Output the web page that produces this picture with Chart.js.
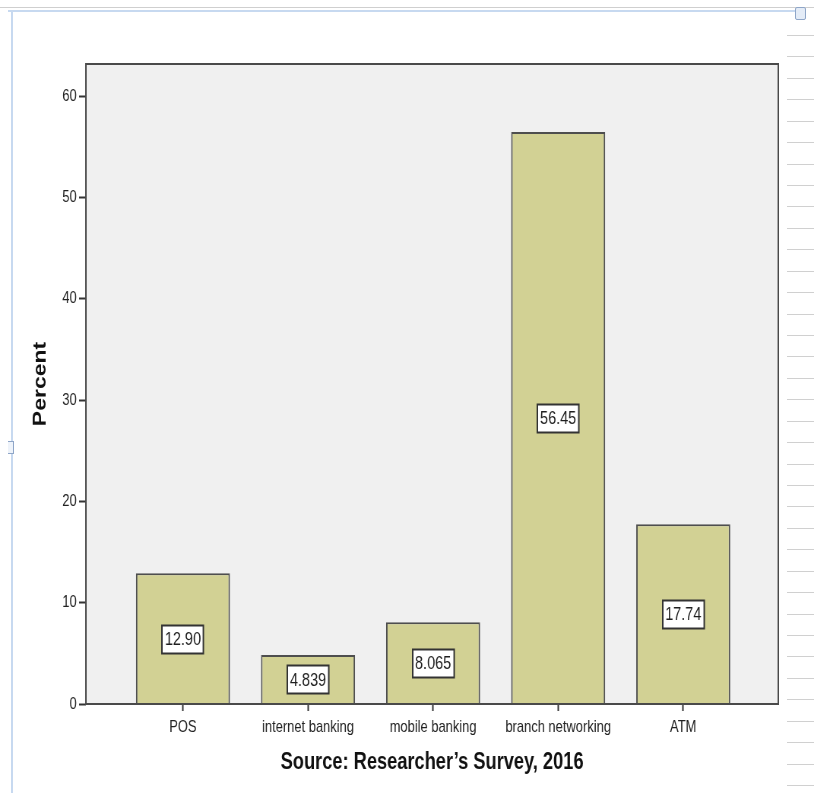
<!DOCTYPE html>
<html>
<head>
<meta charset="utf-8">
<title>Percent by banking channel</title>
<script src="https://cdn.jsdelivr.net/npm/chart.js@4.4.1/dist/chart.umd.min.js"></script>
<style>
  html, body { margin: 0; padding: 0; background: #ffffff; }
  #wrap { position: relative; width: 814px; height: 793px; overflow: hidden; }
  /* the drawing surface is rendered wide and shown condensed (narrow lettering) */
  #chart { position: absolute; left: 0; top: 0; width: 814px !important; height: 793px !important; }
  /* page frame of the surrounding document */
  .rule-top { position: absolute; left: 0; top: 7px; width: 814px; height: 1px; background: #cfcfcf; }
  .rule-blue { position: absolute; left: 8px; top: 10px; width: 792px; height: 2px; background: #c7d9f0; }
  .rule-left { position: absolute; left: 11px; top: 10px; width: 2px; height: 783px; background: #c7d9f0; }
  .handle { position: absolute; left: 795px; top: 7px; width: 9px; height: 11px; border: 1px solid #8fa6c8; border-radius: 2px; background: #e4ecf7; }
  .handle-left { position: absolute; left: 8px; top: 441px; width: 5px; height: 11px; border: 1px solid #8fa6c8; border-left: none; background: #eef3fa; }
  .side-line { position: absolute; left: 787px; width: 27px; height: 1px; background: #d0d0d0; }
</style>
</head>
<body>
<div id="wrap">
  <div class="rule-top"></div>
  <div class="rule-blue"></div>
  <div class="rule-left"></div>
  <div class="handle"></div>
  <div class="handle-left"></div>
  <div id="side"></div>
  <canvas id="chart" width="1071" height="793" style="width:814px;height:793px"></canvas>
</div>
<script>
// Survey results: share of respondents per banking channel
const categories = ['POS', 'internet banking', 'mobile banking', 'branch networking', 'ATM'];
const percents = [12.90, 4.839, 8.065, 56.45, 17.74];
const yTicks = [0, 10, 20, 30, 40, 50, 60];
const yTitle = 'Percent';
const xTitle = 'Source: Researcher\u2019s Survey, 2016';

const sans = "'Liberation Sans', Arial, sans-serif";

// ruled margin lines of the document page on the right
(function () {
  const side = document.getElementById('side');
  for (let y = 35; y < 793; y += 21.43) {
    const d = document.createElement('div');
    d.className = 'side-line';
    d.style.top = Math.round(y) + 'px';
    side.appendChild(d);
  }
})();

// grey plot panel with a dark frame
const panelPlugin = {
  id: 'panel',
  beforeDraw(chart) {
    const { ctx, chartArea: a } = chart;
    ctx.save();
    ctx.fillStyle = '#f0f0f0';
    ctx.fillRect(a.left, a.top, a.right - a.left, a.bottom - a.top);
    ctx.restore();
  },
  afterDraw(chart) {
    const { ctx, chartArea: a } = chart;
    ctx.save();
    ctx.strokeStyle = '#4a4a4a';
    ctx.lineWidth = 2;
    ctx.strokeRect(a.left, a.top, a.right - a.left, a.bottom - a.top);
    ctx.restore();
  }
};

// boxed value labels at half the bar height
const valueLabelPlugin = {
  id: 'valueLabels',
  afterDatasetsDraw(chart) {
    const { ctx } = chart;
    const yScale = chart.scales.y;
    const meta = chart.getDatasetMeta(0);
    ctx.save();
    ctx.font = '19px ' + sans;
    ctx.textAlign = 'center';
    ctx.textBaseline = 'middle';
    meta.data.forEach((bar, i) => {
      const v = percents[i];
      const text = v.toPrecision(4);
      const cx = bar.x;
      const cy = yScale.getPixelForValue(v / 2);
      const w = ctx.measureText(text).width + 7;
      const h = 28;
      const x0 = Math.round(cx - w / 2);
      const y0 = Math.round(cy - h / 2) + 0.5;
      ctx.fillStyle = '#ffffff';
      ctx.fillRect(x0, y0, w, h);
      ctx.strokeStyle = '#333333';
      ctx.lineWidth = 2;
      ctx.strokeRect(x0, y0, w, h);
      ctx.fillStyle = '#1e1e1e';
      ctx.fillText(text, cx, cy + 1);
    });
    ctx.restore();
  }
};

// axis titles
const titlesPlugin = {
  id: 'titles',
  afterDraw(chart) {
    const { ctx, chartArea: a } = chart;
    ctx.save();
    ctx.fillStyle = '#111111';
    ctx.textAlign = 'center';
    ctx.textBaseline = 'middle';
    ctx.font = 'bold 24px ' + sans;
    ctx.fillText(xTitle, (a.left + a.right) / 2, 762);
    ctx.translate(54, (a.top + a.bottom) / 2);
    ctx.rotate(-Math.PI / 2);
    ctx.font = 'bold 23px ' + sans;
    ctx.fillText(yTitle, 0, 0);
    ctx.restore();
  }
};

new Chart(document.getElementById('chart'), {
  type: 'bar',
  data: {
    datasets: [{
      label: yTitle,
      data: percents.map((v, i) => ({ x: i, y: v })),
      backgroundColor: '#d2d194',
      borderColor: '#4e4e4e',
      borderWidth: 2,
      borderSkipped: 'bottom',
      barPercentage: 0.752,
      categoryPercentage: 1
    }]
  },
  options: {
    responsive: false,
    devicePixelRatio: 1,
    animation: false,
    events: [],
    layout: { padding: { top: 64, right: 47, left: 0, bottom: 0 } },
    plugins: { legend: { display: false }, tooltip: { enabled: false } },
    scales: {
      x: {
        type: 'linear',
        offset: false,
        min: -0.776,
        max: 4.76,
        afterBuildTicks(scale) {
          scale.ticks = categories.map((c, i) => ({ value: i }));
        },
        afterFit(scale) { scale.height = 89; },
        border: { display: false },
        grid: { offset: false, drawOnChartArea: false, drawTicks: true, tickLength: 7, tickColor: '#333333', tickWidth: 2 },
        ticks: {
          autoSkip: false,
          maxRotation: 0,
          padding: 6,
          color: '#222222',
          font: { family: sans, size: 17 },
          callback: (v) => categories[v]
        }
      },
      y: {
        min: 0,
        max: 63.16,
        afterBuildTicks(scale) {
          scale.ticks = yTicks.map(v => ({ value: v }));
        },
        afterFit(scale) { scale.width = 113; },
        border: { display: false },
        grid: { drawOnChartArea: false, drawTicks: true, tickLength: 9, tickColor: '#333333', tickWidth: 2 },
        ticks: {
          padding: 3,
          color: '#222222',
          font: { family: sans, size: 17 },
          callback: (v) => String(v)
        }
      }
    }
  },
  plugins: [panelPlugin, valueLabelPlugin, titlesPlugin]
});
</script>
</body>
</html>
